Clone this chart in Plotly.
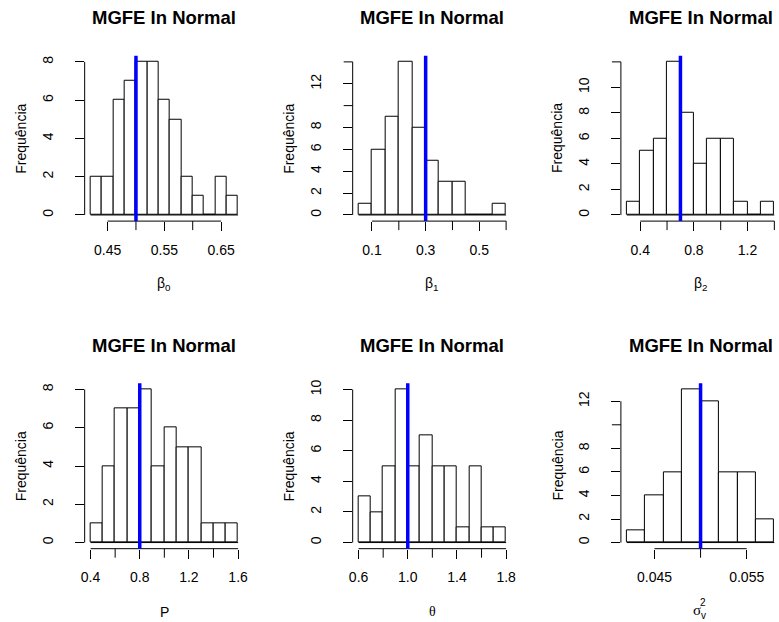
import plotly.graph_objects as go

W, H = 779, 622

# ---------------- data ----------------
beta0_breaks = [0.42, 0.44, 0.46, 0.48, 0.50, 0.52, 0.54, 0.56, 0.58, 0.60, 0.62, 0.64, 0.66, 0.68]
beta0_counts = [2, 2, 6, 7, 8, 8, 6, 5, 2, 1, 0, 2, 1]
beta1_breaks = [0.05, 0.10, 0.15, 0.20, 0.25, 0.30, 0.35, 0.40, 0.45, 0.50, 0.55, 0.60]
beta1_counts = [1, 6, 9, 14, 8, 5, 3, 3, 0, 0, 1]
beta2_breaks = [0.3, 0.4, 0.5, 0.6, 0.7, 0.8, 0.9, 1.0, 1.1, 1.2, 1.3, 1.4]
beta2_counts = [1, 5, 6, 12, 8, 4, 6, 6, 1, 0, 1]
P_breaks = [0.4, 0.5, 0.6, 0.7, 0.8, 0.9, 1.0, 1.1, 1.2, 1.3, 1.4, 1.5, 1.6]
P_counts = [1, 4, 7, 7, 8, 4, 6, 5, 5, 1, 1, 1]
theta_breaks = [0.6, 0.7, 0.8, 0.9, 1.0, 1.1, 1.2, 1.3, 1.4, 1.5, 1.6, 1.7, 1.8]
theta_counts = [3, 2, 5, 10, 5, 7, 5, 5, 1, 5, 1, 1]
sigma_breaks = [0.042, 0.044, 0.046, 0.048, 0.050, 0.052, 0.054, 0.056, 0.058]
sigma_counts = [1, 4, 6, 13, 12, 6, 6, 2]

true_values = [0.5, 0.3, 0.7, 0.8, 1.0, 0.05]

titles = ["MGFE In Normal"] * 6
ylabel = "Frequência"

# all x tick positions, and the ones that carry a label
xtick_vals = [
    [0.45, 0.50, 0.55, 0.60, 0.65],
    [0.1, 0.2, 0.3, 0.4, 0.5, 0.6],
    [0.4, 0.6, 0.8, 1.0, 1.2, 1.4],
    [0.4, 0.6, 0.8, 1.0, 1.2, 1.4, 1.6],
    [0.6, 0.8, 1.0, 1.2, 1.4, 1.6, 1.8],
    [0.045, 0.050, 0.055],
]
xtick_labeled = [
    [0.45, 0.55, 0.65],
    [0.1, 0.3, 0.5],
    [0.4, 0.8, 1.2],
    [0.4, 0.8, 1.2, 1.6],
    [0.6, 1.0, 1.4, 1.8],
    [0.045, 0.055],
]
xtick_text = [
    ["0.45", "0.55", "0.65"],
    ["0.1", "0.3", "0.5"],
    ["0.4", "0.8", "1.2"],
    ["0.4", "0.8", "1.2", "1.6"],
    ["0.6", "1.0", "1.4", "1.8"],
    ["0.045", "0.055"],
]
ytick_vals = [
    [0, 2, 4, 6, 8],
    [0, 2, 4, 6, 8, 10, 12, 14],
    [0, 2, 4, 6, 8, 10, 12],
    [0, 2, 4, 6, 8],
    [0, 2, 4, 6, 8, 10],
    [0, 2, 4, 6, 8, 10, 12],
]
ytick_labeled = [
    [0, 2, 4, 6, 8],
    [0, 2, 4, 6, 8, 12],
    [0, 2, 4, 6, 8, 10],
    [0, 2, 4, 6, 8],
    [0, 2, 4, 6, 8, 10],
    [0, 2, 4, 6, 8, 12],
]

breaks_all = [beta0_breaks, beta1_breaks, beta2_breaks, P_breaks, theta_breaks, sigma_breaks]
counts_all = [beta0_counts, beta1_counts, beta2_counts, P_counts, theta_counts, sigma_counts]

# ---------------- layout geometry (pixels) ----------------
col_left = [81.5, 352.3, 623.3]
col_w = 161.0
row_top = [52.1, 381.8]
row_h = 166.4
TL = 9  # tick length

FONT = "Liberation Sans, Arial, Helvetica, sans-serif"
TICKF = 14

fig = go.Figure()
shapes = []
annotations = []
BL = dict(color="black", width=1)

for i in range(6):
    r, c = divmod(i, 3)
    br = breaks_all[i]
    ct = counts_all[i]
    mids = [(br[k] + br[k + 1]) / 2 for k in range(len(ct))]
    widths = [br[k + 1] - br[k] for k in range(len(ct))]
    ax = "" if i == 0 else str(i + 1)
    xr = "x" + ax
    yr = "y" + ax
    fig.add_trace(go.Bar(
        x=mids, y=ct, width=widths,
        marker=dict(color="white", line=BL),
        xaxis=xr, yaxis=yr, showlegend=False, hoverinfo="skip",
    ))
    # R style ranges (4% extension)
    span = br[-1] - br[0]
    x0 = br[0] - 0.04 * span
    x1 = br[-1] + 0.04 * span
    left = col_left[c]
    right = left + col_w
    if right > W:
        x1 = x0 + (x1 - x0) * (W - left) / col_w
        right = W
    M = max(ct)
    y0, y1 = -0.04 * M, 1.04 * M
    xd = [left / W, right / W]
    yd = [1 - (row_top[r] + row_h) / H, 1 - row_top[r] / H]
    fig.update_layout(**{
        "xaxis" + ax: dict(
            domain=xd, range=[x0, x1], anchor=yr,
            tickmode="array", tickvals=xtick_labeled[i], ticktext=xtick_text[i],
            ticks="outside", ticklen=TL, tickwidth=1, tickcolor="black",
            showline=False, showgrid=False, zeroline=False,
            tickfont=dict(family=FONT, size=TICKF, color="black"),
            ticklabelstandoff=7,
        ),
        "yaxis" + ax: dict(
            domain=yd, range=[y0, y1], anchor=xr,
            tickmode="array", tickvals=ytick_labeled[i],
            ticktext=[str(v) for v in ytick_labeled[i]],
            ticks="outside", ticklen=TL, tickwidth=1, tickcolor="black",
            tickangle=-90,
            showline=False, showgrid=False, zeroline=False,
            tickfont=dict(family=FONT, size=TICKF, color="black"),
            ticklabelstandoff=16,
        ),
    })
    # baseline of histogram (shows empty bins as in R)
    shapes.append(dict(type="line", xref=xr, yref=yr, x0=br[0], x1=br[-1], y0=0, y1=0,
                       line=BL, layer="above"))
    # x axis line from first to last tick
    shapes.append(dict(type="line", xref=xr, yref=yr + " domain",
                       x0=xtick_vals[i][0], x1=xtick_vals[i][-1], y0=0, y1=0, line=BL))
    # y axis line from first to last tick
    shapes.append(dict(type="line", xref=xr + " domain", yref=yr,
                       x0=0, x1=0, y0=ytick_vals[i][0], y1=ytick_vals[i][-1], line=BL))
    # unlabeled tick marks
    for v in xtick_vals[i]:
        if v not in xtick_labeled[i]:
            shapes.append(dict(type="line", xref=xr, yref=yr + " domain",
                               ysizemode="pixel", yanchor=0, y0=0, y1=-TL,
                               x0=v, x1=v, line=BL))
    for v in ytick_vals[i]:
        if v not in ytick_labeled[i]:
            shapes.append(dict(type="line", xref=xr + " domain", yref=yr,
                               xsizemode="pixel", xanchor=0, x0=0, x1=-TL,
                               y0=v, y1=v, line=BL))
    # true value line
    shapes.append(dict(type="line", xref=xr, yref=yr + " domain",
                       x0=true_values[i], x1=true_values[i], y0=0, y1=1,
                       line=dict(color="#0000FF", width=3.5)))

    cx = (col_left[c] + col_w / 2) / W
    # title
    annotations.append(dict(text="<b>" + titles[i] + "</b>", x=cx, xref="paper",
                            y=1 - (14.0 + 329.7 * r) / H, yref="paper",
                            xanchor="center", yanchor="middle", showarrow=False,
                            font=dict(family=FONT, size=18.5, color="black")))
    # y label
    annotations.append(dict(text=ylabel, x=(17.5 + 270.9 * c) / W, xref="paper",
                            y=1 - (row_top[r] + row_h / 2) / H, yref="paper",
                            xanchor="center", yanchor="middle", showarrow=False,
                            textangle=-90,
                            font=dict(family=FONT, size=TICKF, color="black")))

# x labels
xlab_y = [282.0, 611.5]
xlabels = ["β<sub>0</sub>", "β<sub>1</sub>", "β<sub>2</sub>", "P", "θ"]
for i in range(5):
    r, c = divmod(i, 3)
    cx = (col_left[c] + col_w / 2) / W
    fam = "Liberation Serif, serif" if i == 4 else FONT
    annotations.append(dict(text=xlabels[i], x=cx, xref="paper",
                            y=1 - xlab_y[r] / H, yref="paper",
                            xanchor="center", yanchor="middle", showarrow=False,
                            font=dict(family=fam, size=TICKF, color="black")))
# sigma_v^2 label (stacked sub/superscript)
annotations.append(dict(text="σ", x=700 / W, xref="paper", y=1 - 610 / H, yref="paper",
                        xanchor="center", yanchor="middle", showarrow=False,
                        font=dict(family="Liberation Serif, serif", size=15, color="black")))
annotations.append(dict(text="2", x=706.5 / W, xref="paper", y=1 - 602 / H, yref="paper",
                        xanchor="center", yanchor="middle", showarrow=False,
                        font=dict(family=FONT, size=10, color="black")))
annotations.append(dict(text="v", x=706.5 / W, xref="paper", y=1 - 615 / H, yref="paper",
                        xanchor="center", yanchor="middle", showarrow=False,
                        font=dict(family=FONT, size=10, color="black")))

fig.update_layout(
    width=W, height=H,
    margin=dict(l=0, r=0, t=0, b=0),
    paper_bgcolor="white", plot_bgcolor="white",
    bargap=0, shapes=shapes, annotations=annotations,
    font=dict(family=FONT, color="black"),
)

fig.write_html("out.html")
